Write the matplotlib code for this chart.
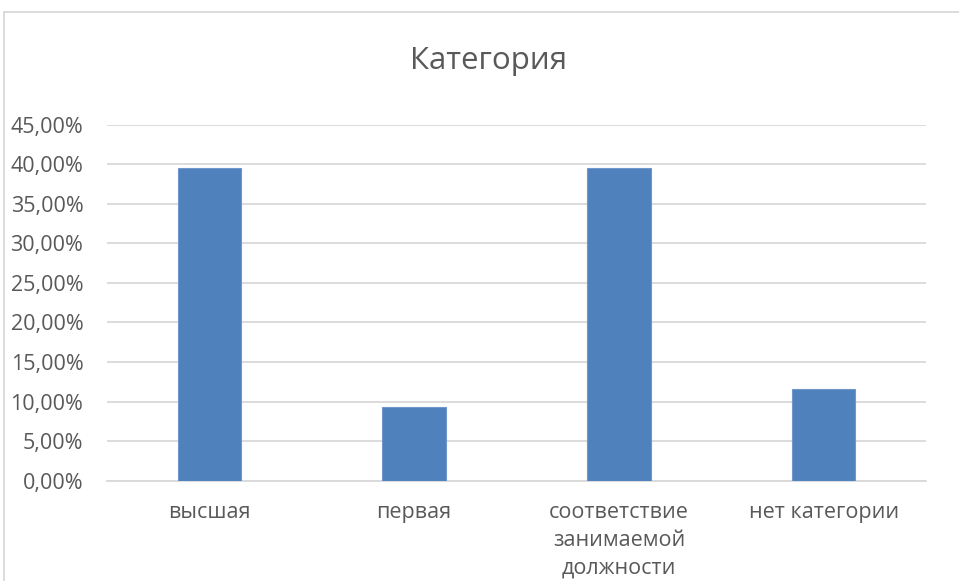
import matplotlib
matplotlib.use("Agg")
import matplotlib.pyplot as plt
from matplotlib.lines import Line2D
from matplotlib.ticker import FuncFormatter, MultipleLocator

categories = ["высшая", "первая", "соответствие\nзанимаемой\nдолжности", "нет категории"]
values = [39.53, 9.30, 39.53, 11.63]
title = "Категория"

plt.rcParams['font.family'] = ['Open Sans', 'DejaVu Sans']
W, H = 959, 581
fig = plt.figure(figsize=(W / 100, H / 100), dpi=100)
ax = fig.add_axes([107 / W, 1 - 480.7 / H, (926 - 107) / W, (480.7 - 124.7) / H])

text_color = "#595959"
x = list(range(len(categories)))
ax.bar(x, values, width=0.31, color="#4F81BD", edgecolor="#6F97CC", linewidth=0.8, zorder=3)
ax.set_xlim(-0.5, len(categories) - 0.5)
ax.set_ylim(0, 45)
ax.yaxis.set_major_locator(MultipleLocator(5))
ax.yaxis.set_major_formatter(FuncFormatter(lambda v, p: f"{v:.2f}".replace(".", ",") + "%"))
ax.grid(axis="y", color="#d9d9d9", linewidth=1.3, zorder=0)
for s in ["top", "right", "left"]:
    ax.spines[s].set_visible(False)
ax.spines["bottom"].set_color("#d9d9d9")
ax.spines["bottom"].set_linewidth(1.3)
ax.set_xticks(x)
ax.set_xticklabels(categories, linespacing=1.45)
ax.tick_params(axis="both", length=0, colors=text_color, labelsize=15.5)
ax.tick_params(axis="y", pad=17)
ax.tick_params(axis="x", pad=15)
for lab in ax.get_xticklabels():
    lab.set_verticalalignment("top")
    lab.set_horizontalalignment("center")

fig.text(488.5 / W, 1 - 69 / H, title, ha="center", va="baseline", fontsize=22.5, color=text_color)

# chart border
fig.add_artist(Line2D([4 / W, 4 / W], [0, 1 - 12 / H], color="#d9d9d9", linewidth=1.3))
fig.add_artist(Line2D([4 / W, 1], [1 - 12 / H, 1 - 12 / H], color="#d9d9d9", linewidth=1.3))

fig.savefig("out.png", dpi=100)
